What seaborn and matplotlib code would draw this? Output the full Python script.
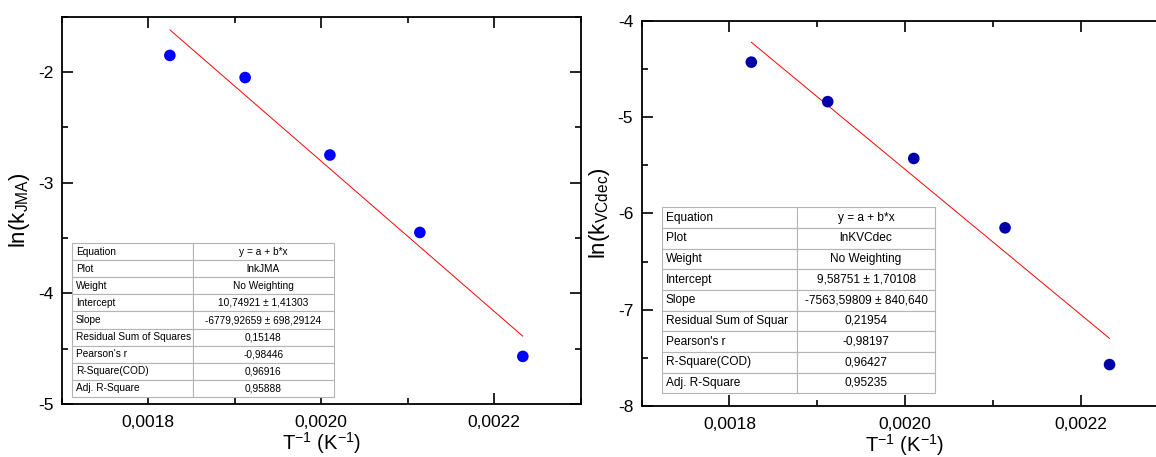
import numpy as np
import pandas as pd
import seaborn as sns
import matplotlib.pyplot as plt
from matplotlib.ticker import FuncFormatter, MultipleLocator

# data
inv_T = [0.001825, 0.001912, 0.00201, 0.002114, 0.002233]
ln_k_jma = [-1.85, -2.05, -2.75, -3.45, -4.57]
ln_k_vcdec = [-4.43, -4.84, -5.43, -6.15, -7.57]

row_names = ["Equation", "Plot", "Weight", "Intercept", "Slope",
             "Residual Sum of Squares", "Pearson's r", "R-Square(COD)", "Adj. R-Square"]
row_names_right = row_names[:5] + ["Residual Sum of Squar"] + row_names[6:]
fit_jma = ["y = a + b*x", "lnkJMA", "No Weighting", "10,74921 ± 1,41303",
           "-6779,92659 ± 698,29124", "0,15148", "-0,98446", "0,96916", "0,95888"]
fit_vcdec = ["y = a + b*x", "lnKVCdec", "No Weighting", "9,58751 ± 1,70108",
             "-7563,59809 ± 840,640", "0,21954", "-0,98197", "0,96427", "0,95235"]

sns.set_style("ticks")
plt.rcParams["font.family"] = ["Liberation Sans", "DejaVu Sans"]
plt.rcParams["mathtext.fontset"] = "custom"
plt.rcParams["mathtext.rm"] = "Liberation Sans"
plt.rcParams["mathtext.it"] = "Liberation Sans:italic"
for k in ["text.color", "axes.labelcolor", "xtick.color", "ytick.color", "axes.edgecolor"]:
    plt.rcParams[k] = "black"

df = pd.DataFrame({"x": inv_T, "jma": ln_k_jma, "vcdec": ln_k_vcdec})

fig = plt.figure(figsize=(11.56, 4.57), dpi=100)
ax1 = fig.add_axes([0.0534, 0.116, 0.449, 0.8475])
ax2 = fig.add_axes([0.555, 0.1116, 0.4557, 0.843])


def style_axis(ax, ylim, ylabel):
    ax.set_xlim(0.0017, 0.0023)
    ax.set_ylim(*ylim)
    ax.xaxis.set_major_locator(MultipleLocator(0.0002))
    ax.xaxis.set_minor_locator(MultipleLocator(0.0001))
    ax.yaxis.set_major_locator(MultipleLocator(1))
    ax.yaxis.set_minor_locator(MultipleLocator(0.5))
    ax.xaxis.set_major_formatter(FuncFormatter(lambda v, p: f"{v:.4f}".replace(".", ",")))
    ax.yaxis.set_major_formatter(FuncFormatter(lambda v, p: f"{v:g}"))
    ax.tick_params(which="both", direction="in", top=True, right=True,
                   width=1.2, labelsize=12.5, color="black")
    ax.tick_params(axis="x", pad=8)
    ax.tick_params(axis="y", pad=6)
    ax.tick_params(which="major", length=8)
    ax.tick_params(which="minor", length=4)
    for s in ax.spines.values():
        s.set_linewidth(1.3)
        s.set_color("black")
    ax.set_xlabel(r"T$^{\mathrm{-1}}$ (K$^{\mathrm{-1}}$)", fontsize=14.5, labelpad=0)
    ax.set_ylabel(ylabel, fontsize=16, labelpad=4)


def add_table(ax, names, values, bbox, col_w, fs):
    cells = [[n, v] for n, v in zip(names, values)]
    tbl = ax.table(cellText=cells, cellLoc="left", bbox=bbox,
                   colWidths=col_w, zorder=5)
    tbl.auto_set_font_size(False)
    tbl.set_fontsize(fs)
    for (r, c), cell in tbl.get_celld().items():
        cell.set_edgecolor("#b4b4b4")
        cell.set_linewidth(0.8)
        cell.PAD = 0.03
        if c == 1:
            cell._loc = "center"
            cell.get_text().set_ha("center")
    return tbl


sns.regplot(data=df, x="x", y="jma", ax=ax1, scatter=False, ci=None,
            line_kws={"color": "#ff0000", "lw": 0.7})
sns.scatterplot(data=df, x="x", y="jma", ax=ax1, color="#0000ff", s=70,
                edgecolor="none", zorder=4)
style_axis(ax1, (-5, -1.5), r"ln(k$_{\mathrm{JMA}}$)")
add_table(ax1, row_names, fit_jma, [0.0204, 0.0188, 0.504, 0.396], [0.461, 0.539], 7.3)

sns.regplot(data=df, x="x", y="vcdec", ax=ax2, scatter=False, ci=None,
            line_kws={"color": "#ff0000", "lw": 0.7})
sns.scatterplot(data=df, x="x", y="vcdec", ax=ax2, color="#0000a8", s=70,
                edgecolor="none", zorder=4)
style_axis(ax2, (-8, -4), r"ln(k$_{\mathrm{VCdec}}$)")
add_table(ax2, row_names_right, fit_vcdec, [0.038, 0.033, 0.519, 0.483], [0.496, 0.504], 8.6)

fig.savefig("out.png", dpi=100)
